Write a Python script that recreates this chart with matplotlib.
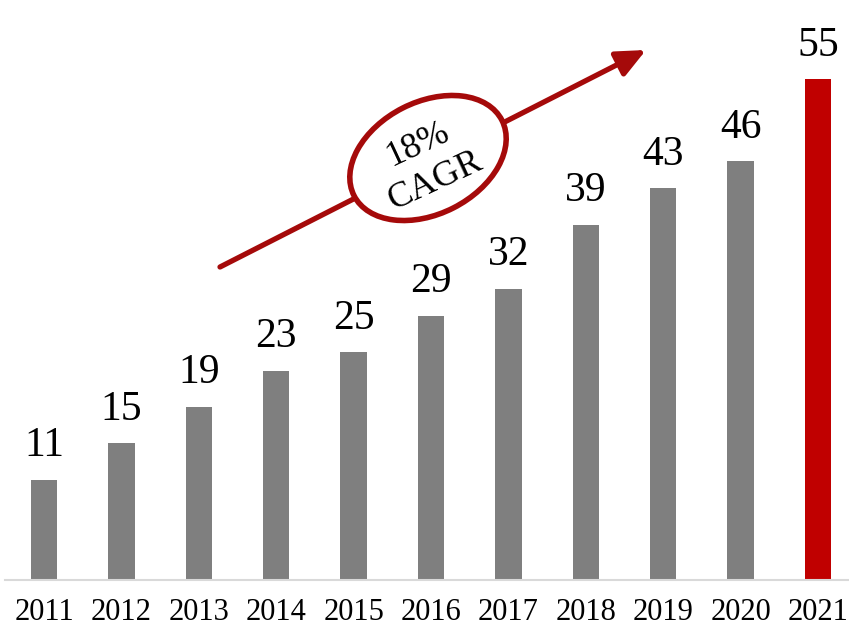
import matplotlib
matplotlib.use('Agg')
import matplotlib.pyplot as plt
from matplotlib.patches import Ellipse, FancyArrowPatch
from matplotlib.transforms import IdentityTransform

plt.rcParams['font.family'] = ['Liberation Serif', 'DejaVu Serif']

years = ['2011', '2012', '2013', '2014', '2015', '2016', '2017', '2018', '2019', '2020', '2021']
values = [11, 15, 19, 23, 25, 29, 32, 39, 43, 46, 55]
cagr_text = '18%\nCAGR'

gray = '#7F7F7F'
red = '#C00000'
dark_red = '#A50A0A'

fig = plt.figure(figsize=(8.49, 6.29), dpi=100)
ax = fig.add_axes([5 / 849, 49 / 629, 844 / 849, 580 / 629])

colors = [gray] * (len(values) - 1) + [red]
x = list(range(len(values)))
ax.bar(x, values, width=0.34, color=colors, zorder=2)
for xi, v in zip(x, values):
    ax.text(xi, v + 1.6, str(v), ha='center', va='bottom', fontsize=30)

ax.set_xlim(-0.504, 10.40)
ax.set_ylim(0, 63.7)
ax.set_xticks(x)
ax.set_xticklabels(years, fontsize=22)
ax.tick_params(axis='x', length=0, pad=13)
ax.set_yticks([])
for s in ['top', 'right', 'left']:
    ax.spines[s].set_visible(False)
ax.spines['bottom'].set_color('#D9D9D9')
ax.spines['bottom'].set_linewidth(1.5)

# growth arrow
fig.add_artist(FancyArrowPatch(
    (220 / 849, 1 - 267 / 629), (646 / 849, 1 - 50 / 629),
    transform=fig.transFigure, arrowstyle='-|>,head_length=1.1,head_width=0.5',
    mutation_scale=16, shrinkA=0, shrinkB=0, color=dark_red, lw=3.8, zorder=3))

# ellipse badge
ell = Ellipse((428, 629 - 158), 166, 112, angle=27, transform=IdentityTransform(),
              facecolor='white', edgecolor=dark_red, lw=4, zorder=4)
fig.add_artist(ell)
fig.text(427 / 849, 1 - 163 / 629, cagr_text, ha='center', va='center',
         rotation=25, fontsize=26, linespacing=1.3, zorder=5)

fig.savefig('out.png', dpi=100)
